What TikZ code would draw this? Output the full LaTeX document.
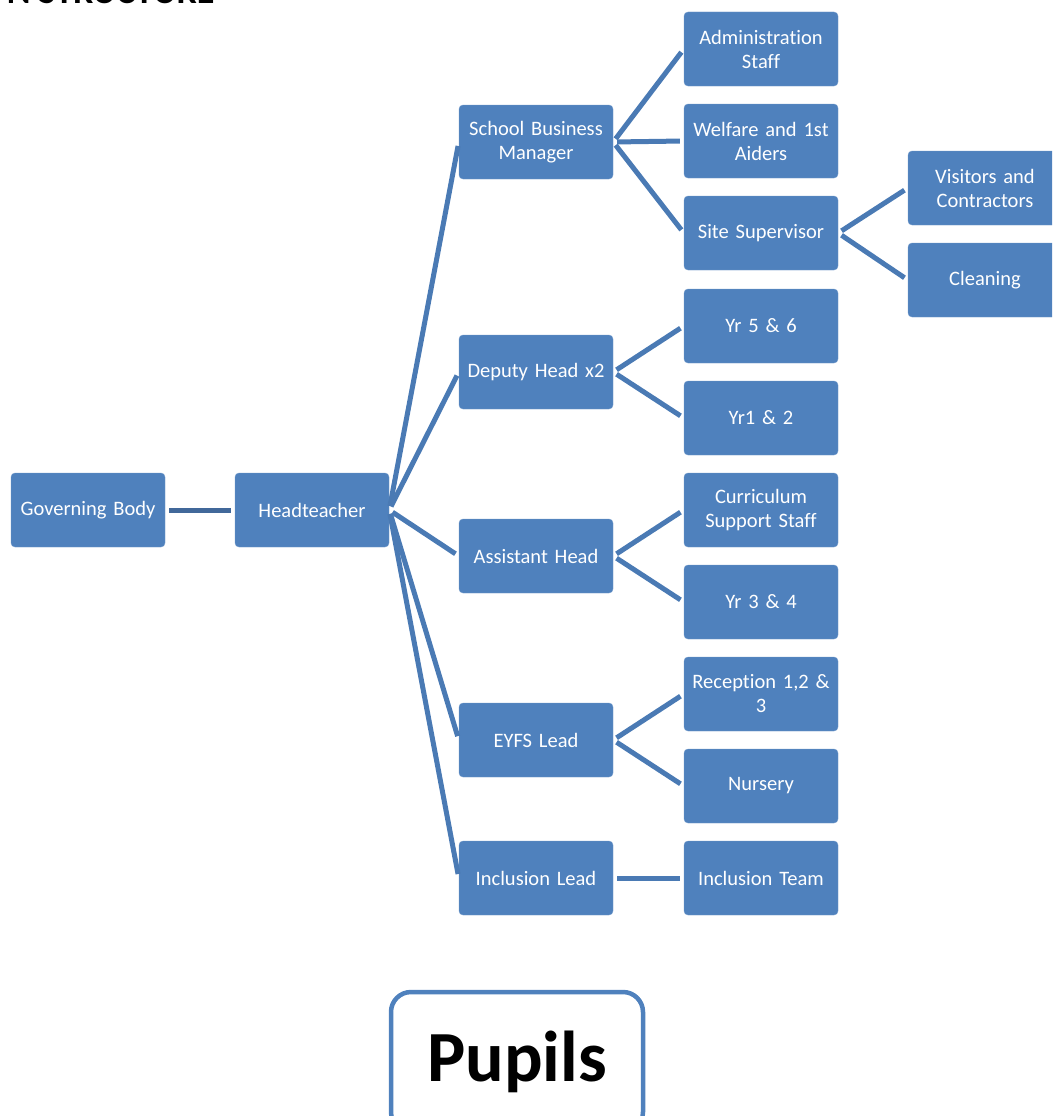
\documentclass[tikz,border=0pt]{standalone}
\usepackage{fontspec}
\setmainfont[Ligatures=NoCommon]{Carlito}
\definecolor{boxblue}{RGB}{79,129,189}
\definecolor{linkblue}{RGB}{74,122,180}
\definecolor{darklink}{RGB}{65,104,154}

\begin{document}
\begin{tikzpicture}[x=1pt,y=-1pt]
			\tikzstyle{box}=[draw=boxblue!80!white,fill=boxblue,rounded corners=4pt,minimum width=154pt,minimum height=74pt,text=white,align=center,text width=146pt,inner sep=0pt,font=\fontsize{20.5}{24}\selectfont]
			\tikzstyle{link}=[draw=linkblue,line width=5pt,shorten <=4pt,shorten >=4pt]
			\clip (0,0) rectangle (1052,1116);
			% title (cut off at the top)
			\node[anchor=base east,font=\bfseries\fontsize{36}{40}\selectfont] (title) at (218,4) {N STRUCTURE};
			% left part
			\node[box] (gb) at (88,510) {Governing Body};
			\node[box] (hd) at (312,510) {Headteacher};
			% second column
			\node[box] (sbm) at (536,142) {School Business\\Manager};
			\node[box] (dep) at (536,372) {Deputy Head x2};
			\node[box] (ast) at (536,556) {Assistant Head};
			\node[box] (eyfs) at (536,740) {EYFS Lead};
			\node[box] (inc) at (536,878) {Inclusion Lead};
			% third column
			\node[box] (adm) at (761,49) {Administration\\Staff};
			\node[box] (wel) at (761,141) {Welfare and 1st\\Aiders};
			\node[box] (site) at (761,233) {Site Supervisor};
			\node[box] (y56) at (761,326) {Yr 5 \& 6};
			\node[box] (y12) at (761,418) {Yr1 \& 2};
			\node[box] (cur) at (761,510) {Curriculum\\Support Staff};
			\node[box] (y34) at (761,602) {Yr 3 \& 4};
			\node[box] (rec) at (761,694) {Reception 1,2 \&\\3};
			\node[box] (nur) at (761,786) {Nursery};
			\node[box] (inct) at (761,878) {Inclusion Team};
			% fourth column
			\node[box] (vis) at (985,188) {Visitors and\\Contractors};
			\node[box] (cln) at (985,280) {Cleaning};
			% pupils
			\node[draw=boxblue,line width=4.5pt,fill=white,rounded corners=20pt,minimum width=252pt,minimum height=140pt,font=\bfseries\fontsize{72}{80}\selectfont] (pup) at (517,1062) {Pupils};
			% links
			\draw[link,draw=darklink] (gb.east) -- (hd.west);
			\foreach \c in {sbm,dep,ast,eyfs,inc}
				\draw[link] (hd.east) -- (\c.west);
			\foreach \c in {adm,wel,site}
				\draw[link] (sbm.east) -- (\c.west);
			\foreach \c in {vis,cln}
				\draw[link] (site.east) -- (\c.west);
			\draw[link] (dep.east) -- (y56.west);
			\draw[link] (dep.east) -- (y12.west);
			\draw[link] (ast.east) -- (cur.west);
			\draw[link] (ast.east) -- (y34.west);
			\draw[link] (eyfs.east) -- (rec.west);
			\draw[link] (eyfs.east) -- (nur.west);
			\draw[link] (inc.east) -- (inct.west);
\end{tikzpicture}
\end{document}
